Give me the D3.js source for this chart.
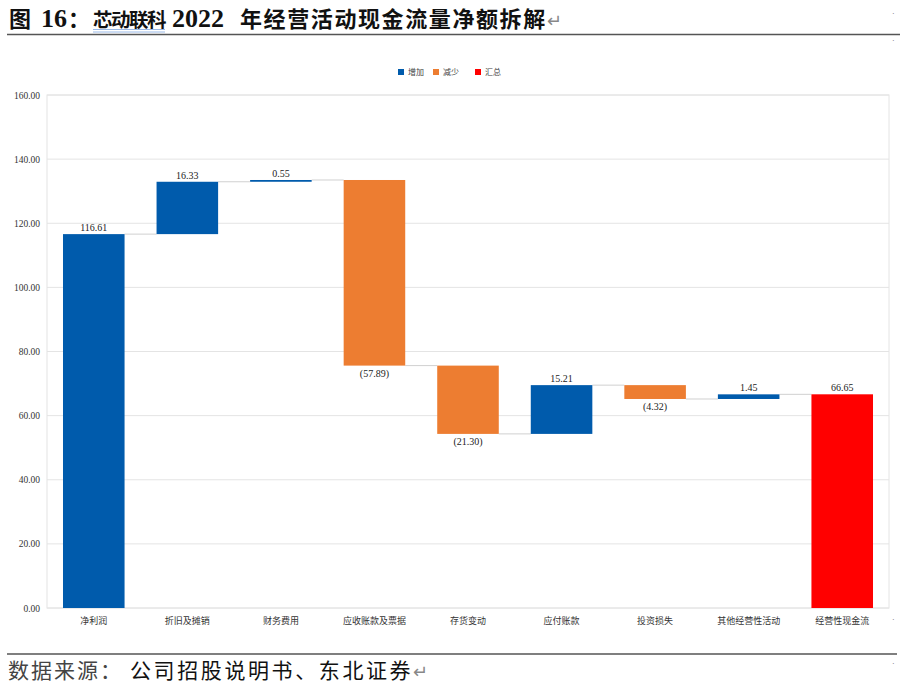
<!DOCTYPE html>
<html>
<head>
<meta charset="utf-8">
<script src="https://cdn.jsdelivr.net/npm/d3@7"></script>
<style>
  body { margin: 0; background: #fff; }
  svg { display: block; }
</style>
</head>
<body>
<svg id="chart" width="900" height="689"></svg>
<script>
// categories and changes
var categories = ["净利润", "折旧及摊销", "财务费用", "应收账款及票据", "存货变动", "应付账款", "投资损失", "其他经营性活动", "经营性现金流"];
var changes = [116.61, 16.33, 0.55, -57.89, -21.30, 15.21, -4.32, 1.45, 66.65];
var isTotal = [false, false, false, false, false, false, false, false, true];
var legendNames = ["增加", "减少", "汇总"];
var yTicks = [0, 20, 40, 60, 80, 100, 120, 140, 160];

(function() {
  var colors = { up: "#005bac", down: "#ed7d31", total: "#ff0000" };
  var serif = "'Liberation Serif', 'Times New Roman', serif";
  var cjk = "'Noto Sans CJK SC', sans-serif";

  var svg = d3.select("#chart");

  // title, built piece by piece so widths follow the word layout
  var title = svg.append("text").attr("y", 27)
    .style("font-family", cjk).style("font-weight", "bold").attr("fill", "#111");
  title.append("tspan").attr("x", 9).style("font-size", "22px").text("图");
  title.append("tspan").attr("x", 41).style("font-family", serif).style("font-size", "26px").text("16");
  title.append("tspan").attr("x", 68).style("font-size", "22px").text("：");
  title.append("tspan").attr("x", 93).style("font-size", "19.5px").style("letter-spacing", "-1.5px").text("芯动联科");
  title.append("tspan").attr("x", 172).style("font-family", serif).style("font-size", "26px").text("2022");
  title.append("tspan").attr("x", 240).style("font-size", "22px").style("letter-spacing", "1.6px").text("年经营活动现金流量净额拆解");
  title.append("tspan").style("font-size", "18px").style("font-weight", "normal").attr("fill", "#888").text("↵");

  // word style double underline under the company name
  [29.5, 32].forEach(function(yy) {
    svg.append("line").attr("x1", 93).attr("x2", 165).attr("y1", yy).attr("y2", yy)
      .attr("stroke", "#7ea6e0").attr("stroke-width", 0.8);
  });
  svg.append("line").attr("x1", 7).attr("x2", 900).attr("y1", 34.5).attr("y2", 34.5)
    .attr("stroke", "#555").attr("stroke-width", 1.5);

  // bottom source
  svg.append("line").attr("x1", 7).attr("x2", 897).attr("y1", 654).attr("y2", 654)
    .attr("stroke", "#555").attr("stroke-width", 1.5);
  var src = svg.append("text").attr("y", 678)
    .style("font-family", cjk).style("font-size", "21px").attr("fill", "#111");
  src.append("tspan").attr("x", 8).style("letter-spacing", "2px").attr("fill", "#444").text("数据来源：");
  src.append("tspan").attr("x", 130).style("letter-spacing", "2.6px").text("公司招股说明书、东北证券");
  src.append("tspan").style("font-size", "18px").attr("fill", "#888").text("↵");

  // side marks
  [16, 43, 622, 666].forEach(function(yy) {
    svg.append("text").attr("x", 892).attr("y", yy).style("font-size", "8px")
      .attr("fill", "#666").text("·");
  });

  // plot area
  var pLeft = 47, pRight = 889, pTop = 95, pBottom = 608;

  var x = d3.scaleBand().domain(categories).range([pLeft, pRight]).paddingInner(0.342).paddingOuter(0.171);
  var y = d3.scaleLinear().domain([0, 160]).range([pBottom, pTop]);

  // running totals
  var bars = [];
  var run = 0;
  changes.forEach(function(v, i) {
    var start, end;
    if (isTotal[i]) { start = 0; end = v; run = v; }
    else { start = run; end = run + v; run = end; }
    bars.push({ name: categories[i], value: v, start: start, end: end, total: isTotal[i] });
  });

  // grid
  svg.append("g").selectAll("line").data(yTicks).join("line")
    .attr("x1", pLeft).attr("x2", pRight)
    .attr("y1", function(d) { return y(d); }).attr("y2", function(d) { return y(d); })
    .attr("stroke", "#e4e4e4").attr("stroke-width", 1);
  svg.append("rect").attr("x", pLeft).attr("y", pTop)
    .attr("width", pRight - pLeft).attr("height", pBottom - pTop)
    .attr("fill", "none").attr("stroke", "#e4e4e4");

  // y axis
  var yAxis = svg.append("g").attr("transform", "translate(" + (pLeft - 4) + ",0)")
    .call(d3.axisLeft(y).tickValues(yTicks).tickFormat(d3.format(".2f")).tickSize(0));
  yAxis.select(".domain").remove();
  yAxis.selectAll("text").style("font-family", serif).style("font-size", "9.5px").attr("fill", "#333");

  // x axis
  var xAxis = svg.append("g").attr("transform", "translate(0," + pBottom + ")")
    .call(d3.axisBottom(x).tickSize(0).tickPadding(10));
  xAxis.select(".domain").remove();
  xAxis.selectAll("text").style("font-family", cjk).style("font-size", "9px").attr("fill", "#333");

  // connectors
  svg.append("g").selectAll("line").data(bars.slice(0, -1)).join("line")
    .attr("x1", function(d) { return x(d.name) + x.bandwidth(); })
    .attr("x2", function(d, i) { return x(categories[i + 1]); })
    .attr("y1", function(d) { return y(d.end); })
    .attr("y2", function(d) { return y(d.end); })
    .attr("stroke", "#d0d0d0").attr("stroke-width", 1);

  // bars
  svg.append("g").selectAll("rect").data(bars).join("rect")
    .attr("x", function(d) { return x(d.name); })
    .attr("width", x.bandwidth())
    .attr("y", function(d) { return y(Math.max(d.start, d.end)); })
    .attr("height", function(d) { return Math.max(1.5, Math.abs(y(d.start) - y(d.end))); })
    .attr("fill", function(d) { return d.total ? colors.total : (d.value >= 0 ? colors.up : colors.down); });

  // labels
  svg.append("g").selectAll("text").data(bars).join("text")
    .attr("x", function(d) { return x(d.name) + x.bandwidth() / 2; })
    .attr("y", function(d) {
      return d.value >= 0 ? y(Math.max(d.start, d.end)) - 3 : y(Math.min(d.start, d.end)) + 11;
    })
    .attr("text-anchor", "middle")
    .style("font-family", serif).style("font-size", "10px").attr("fill", "#222")
    .text(function(d) {
      var s = d3.format(".2f")(Math.abs(d.value));
      return d.value < 0 ? "(" + s + ")" : s;
    });

  // legend
  var legendColors = [colors.up, colors.down, colors.total];
  var legendX = [398, 433, 475];
  var lg = svg.append("g").selectAll("g").data(legendNames).join("g")
    .attr("transform", function(d, i) { return "translate(" + legendX[i] + ",69)"; });
  lg.append("rect").attr("width", 6).attr("height", 6).attr("fill", function(d, i) { return legendColors[i]; });
  lg.append("text").attr("x", 10).attr("y", 6)
    .style("font-family", cjk).style("font-size", "8px").attr("fill", "#444")
    .text(function(d) { return d; });
})();
</script>
</body>
</html>
